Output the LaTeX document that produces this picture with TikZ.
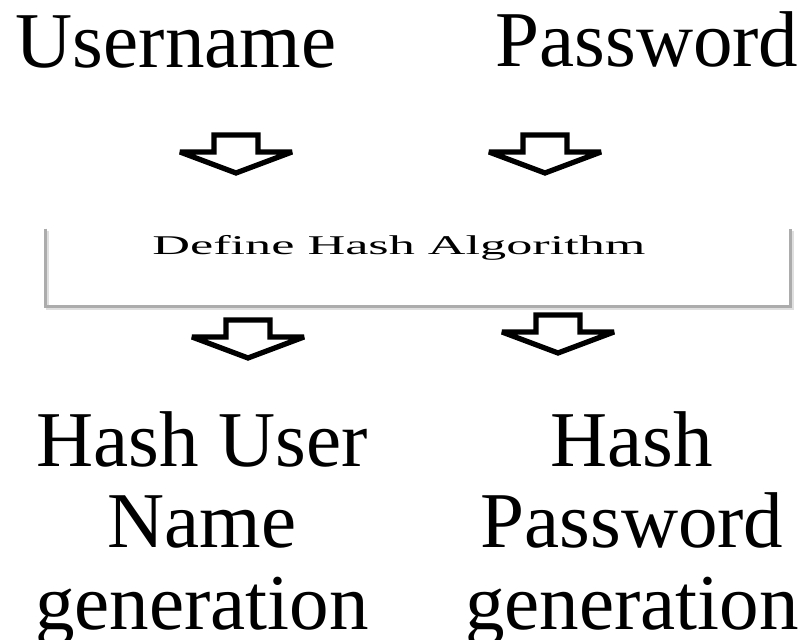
\documentclass[tikz,border=0pt]{standalone}
\usepackage{fontspec}
\setmainfont{Liberation Serif}
\usepackage{graphicx}

\begin{document}
\begin{tikzpicture}[
  bigt/.style={inner sep=0pt, font=\fontsize{45}{46.5}\selectfont, align=center},
  downarr/.pic={\draw[line width=3pt, line join=miter, miter limit=4, fill=white]
      (-0.44,0) -- (0.44,0) -- (0.44,-0.34) -- (1.12,-0.34) -- (0,-0.76)
      -- (-1.12,-0.34) -- (-0.44,-0.34) -- cycle;},
  algbox/.style={minimum width=14.88cm, minimum height=1.54cm, inner sep=0pt},
  edge/.style={draw=gray!65, line width=1.4pt},
  shade/.style={draw=gray!25, line width=1.4pt},
]
\useasboundingbox (0,0) rectangle (16.16,-12.8);

% Inputs
\node[bigt, anchor=base] (user) at (3.52,-1.36) {Username};
\node[bigt, anchor=base] (pass) at (12.94,-1.34) {Password};

% Block arrows into the algorithm
\pic (a_user) at (4.72,-2.70) {downarr};
\pic (a_pass) at (10.90,-2.70) {downarr};

% Hash algorithm box (open at the top)
\node[algbox] (hashbox) at (8.36,-5.35) {};
\node[inner sep=0pt, anchor=base, font=\fontsize{15.4}{17}\selectfont] (alg) at (7.98,-5.10)
  {\scalebox{1.93}[1]{Define Hash Algorithm}};
\draw[shade] ([shift={(0.04,-0.04)}]hashbox.north west) -- ([shift={(0.04,-0.04)}]hashbox.south west)
  -- ([shift={(0.04,-0.04)}]hashbox.south east) -- ([shift={(0.04,-0.04)}]hashbox.north east);
\draw[edge] (hashbox.north west) -- (hashbox.south west) -- (hashbox.south east) -- (hashbox.north east);

% Block arrows out of the algorithm
\pic (a_uhash) at (4.96,-6.40) {downarr};
\pic (a_phash) at (11.16,-6.30) {downarr};

% Outputs
\node[bigt, anchor=north] (uhash) at (4.04,-8.22) {Hash User\\Name\\generation};
\node[bigt, anchor=north] (phash) at (12.64,-8.22) {Hash\\Password\\generation};
\end{tikzpicture}
\end{document}
